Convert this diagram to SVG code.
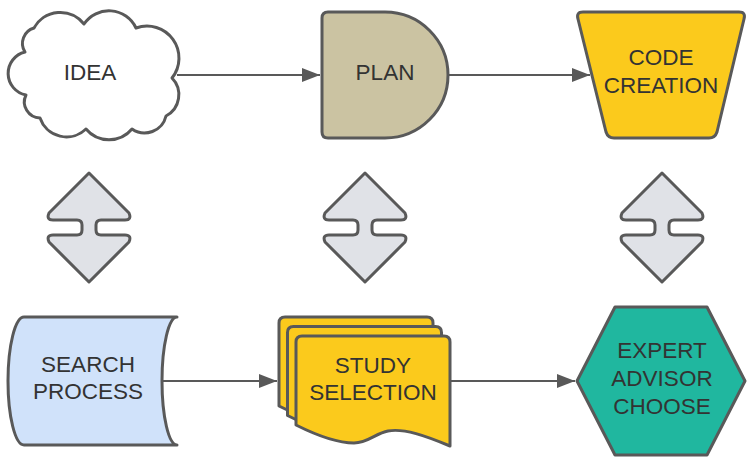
<svg xmlns="http://www.w3.org/2000/svg" width="750" height="460" viewBox="0 0 750 460">
<style>
.shape{stroke:#595959;stroke-width:3;stroke-linejoin:round}
.lbl{font-family:"Liberation Sans",Arial,sans-serif;font-size:22.5px;fill:#333333;text-anchor:middle}
.conn{stroke:#595959;stroke-width:2;fill:none}
.dbl{fill:#e0e2e7;stroke:#595959;stroke-width:3;stroke-linejoin:round}
</style>
<defs>
<marker id="ah" markerUnits="userSpaceOnUse" markerWidth="18" markerHeight="14" refX="18" refY="7" orient="auto">
<path d="M0,0 L18,7 L0,14 Z" fill="#595959"/>
</marker>
<path id="page" d="M 6 0 H 148 Q 154 0 154 6 V 110 C 130 100 108 92 92 95 C 80 97 72 107 58 107 C 40 107 20 99 0 89 V 6 Q 0 0 6 0 Z"/>
<path id="dblarrow" d="M 0 173 L 40 213 Q 43 220 36 220 L 12 220 Q 7 220 7 225 L 7 230 Q 7 235 12 235 L 36 235 Q 43 235 40 242 L 0 282 L -40 242 Q -43 235 -36 235 L -12 235 Q -7 235 -7 230 L -7 225 Q -7 220 -12 220 L -36 220 Q -43 220 -40 213 Z"/>
</defs>
<rect width="750" height="460" fill="#ffffff"/>

<g id="connectors">
<path class="conn" d="M 177 75 H 320" marker-end="url(#ah)"/>
<path class="conn" d="M 449 75 H 590" marker-end="url(#ah)"/>
<path class="conn" d="M 163 381 H 277" marker-end="url(#ah)"/>
<path class="conn" d="M 451 381 H 575" marker-end="url(#ah)"/>
</g>

<g id="idea">
<path class="shape" fill="#ffffff" d="M 25 52 A 16 16 0 0 1 34 28 A 30 30 0 0 1 84 24 A 30 30 0 0 1 136 28 A 32 32 0 0 1 172 78 A 24 24 0 0 1 166 116 A 22 22 0 0 1 132 129 A 30 30 0 0 1 86 129 A 28 28 0 0 1 40 118 A 16 16 0 0 1 26 95 A 22 22 0 0 1 25 52 Z"/>
<text class="lbl" x="90" y="80">IDEA</text>
</g>

<g id="plan">
<path class="shape" fill="#cbc3a2" d="M 328 12 H 385 A 63 63 0 0 1 385 138 H 328 Q 322 138 322 132 V 18 Q 322 12 328 12 Z"/>
<text class="lbl" x="385" y="80">PLAN</text>
</g>

<g id="code-creation">
<path class="shape" fill="#fbca1c" d="M 583 12 H 739 Q 746 12 744 19 L 717 132 Q 715 138 709 138 H 614 Q 608 138 606 132 L 578 19 Q 576 12 583 12 Z"/>
<text class="lbl" x="661" y="65">CODE</text>
<text class="lbl" x="661" y="93">CREATION</text>
</g>

<g id="dbl-left"><use href="#dblarrow" class="dbl" transform="translate(89,0)"/></g>
<g id="dbl-mid"><use href="#dblarrow" class="dbl" transform="translate(365,0)"/></g>
<g id="dbl-right"><use href="#dblarrow" class="dbl" transform="translate(662,0)"/></g>

<g id="search-process">
<path class="shape" fill="#d0e2fa" d="M 24 317 H 177 A 15 64 0 0 0 177 445 H 24 A 16 64 0 0 1 24 317 Z"/>
<text class="lbl" x="88" y="372">SEARCH</text>
<text class="lbl" x="88" y="399">PROCESS</text>
</g>

<g id="study-selection">
<use href="#page" class="shape" fill="#fbca1c" transform="translate(279,317)"/>
<use href="#page" class="shape" fill="#fbca1c" transform="translate(287.5,326.5)"/>
<use href="#page" class="shape" fill="#fbca1c" transform="translate(296,336)"/>
<text class="lbl" x="373" y="373">STUDY</text>
<text class="lbl" x="373" y="400">SELECTION</text>
</g>

<g id="expert-advisor-choose">
<path class="shape" fill="#20b79f" d="M 577 381 L 615 307 H 707 L 745 381 L 707 455 H 615 Z"/>
<text class="lbl" x="662" y="358">EXPERT</text>
<text class="lbl" x="662" y="386">ADVISOR</text>
<text class="lbl" x="662" y="414">CHOOSE</text>
</g>
</svg>
